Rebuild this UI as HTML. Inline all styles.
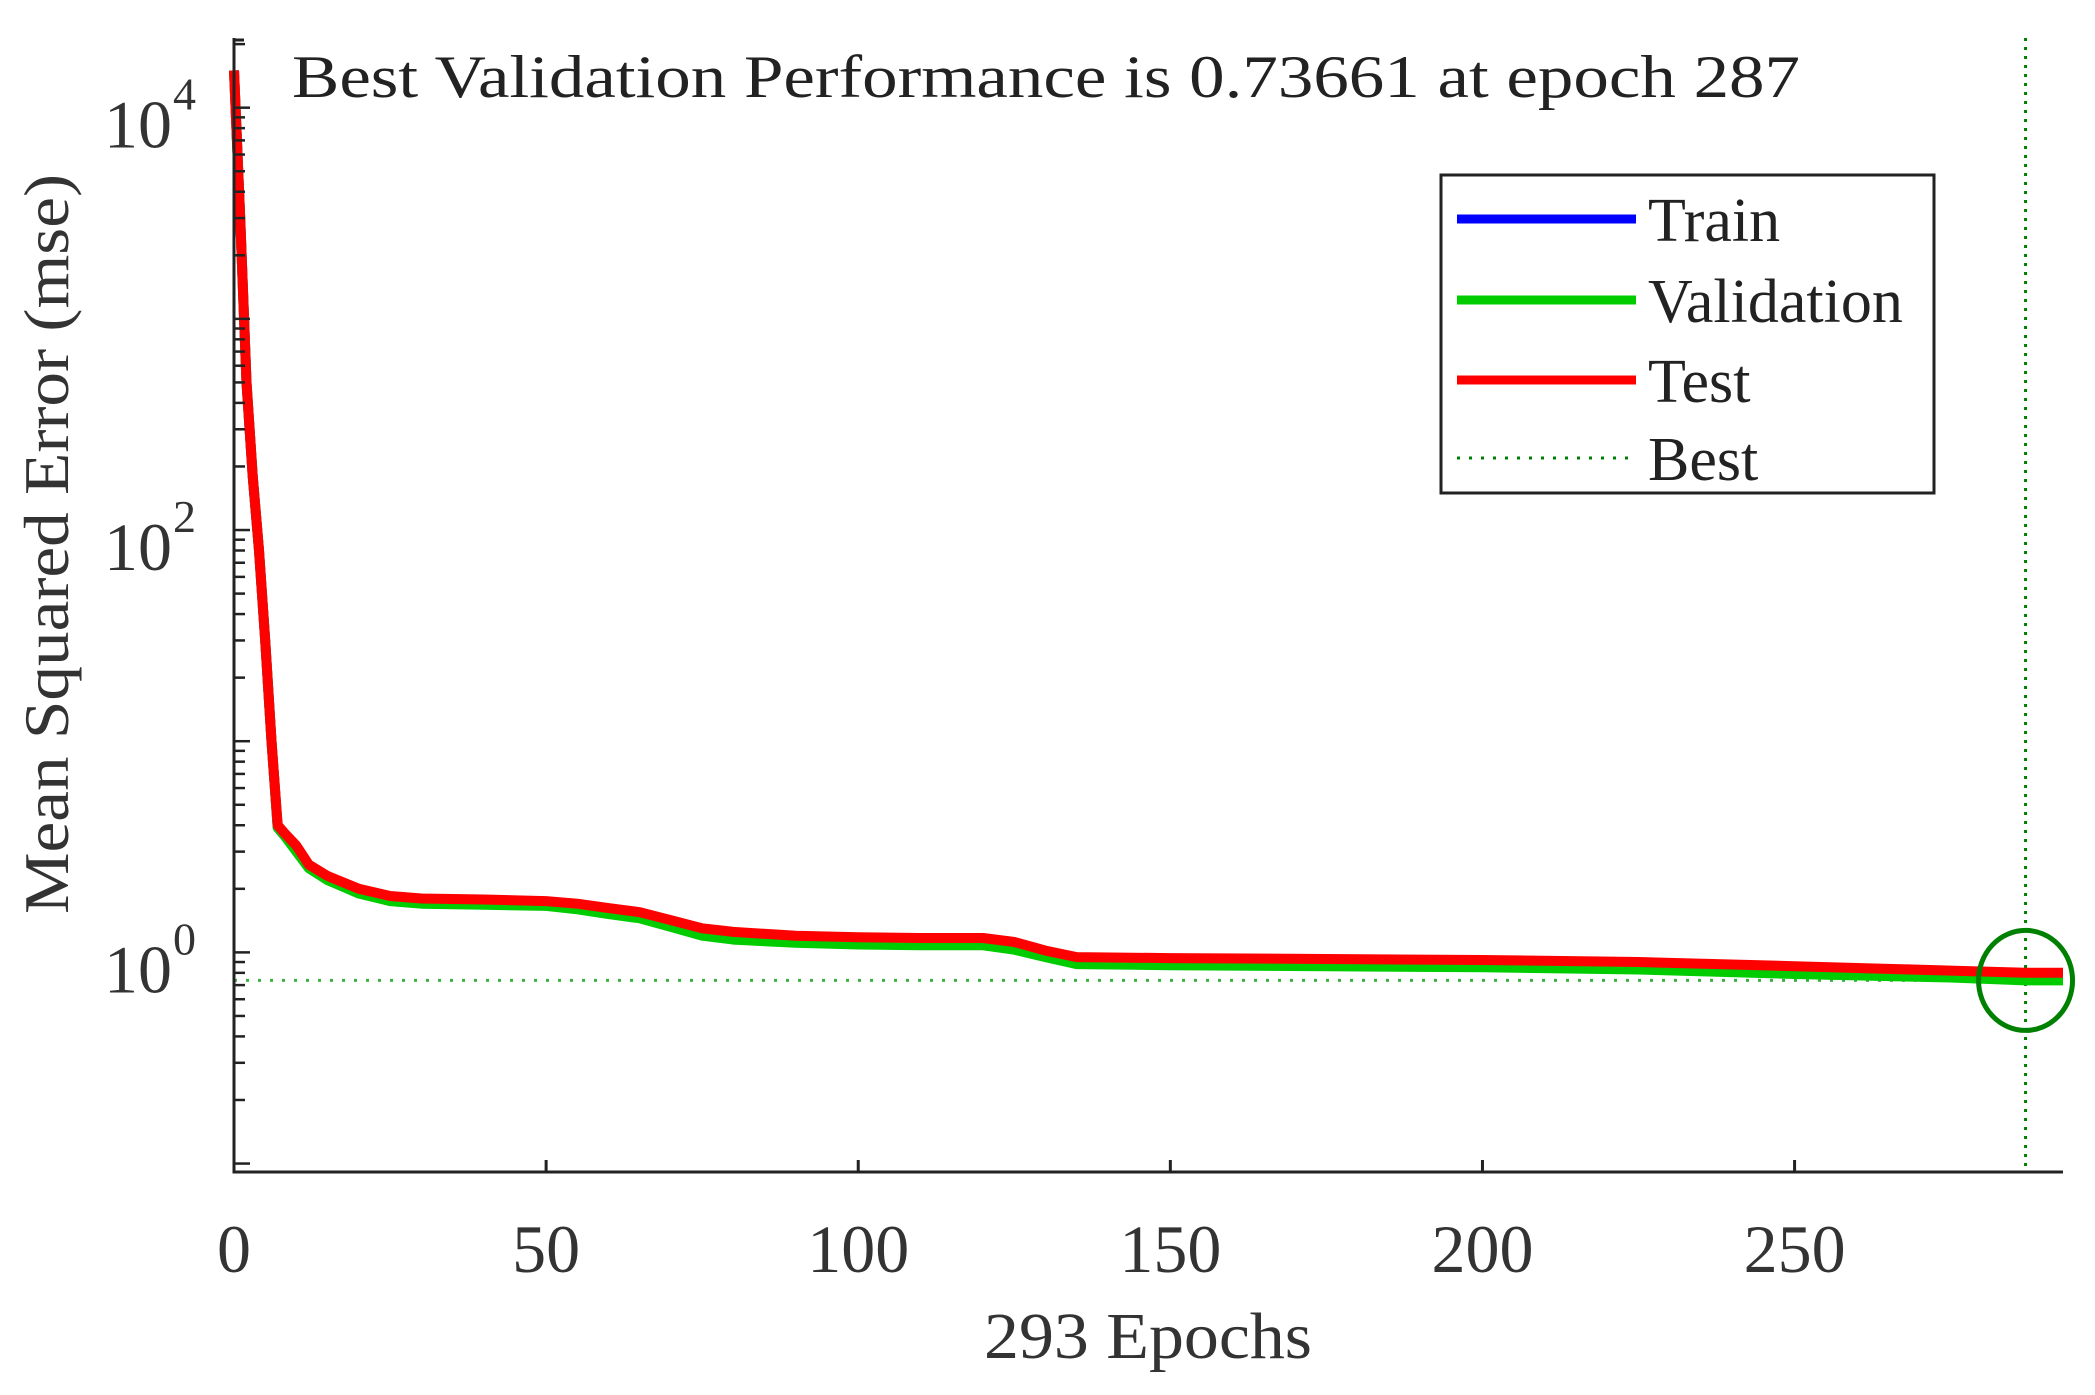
<!DOCTYPE html>
<html><head><meta charset="utf-8"><style>
html,body{margin:0;padding:0;background:#fff;}
svg{display:block;font-family:"Liberation Serif",serif;}
</style></head><body>
<svg id="chart" width="2095" height="1395" viewBox="0 0 2095 1395"></svg>
<script>
const epochs =      [0,    1,    2,   3,   4,   5,   6,   7,   8,   10,  12,  15,  20,  25,  30,  40,  50,  55,  60,  65,  70,  75,  80,  90,  100, 110, 120, 125, 130, 135, 150, 175, 200, 225, 250, 275, 287, 293];
const testVals =    [15000,3000,500, 180, 80,  30,  10,  4.0, 3.7, 3.2, 2.6, 2.3, 2.0, 1.85,1.8, 1.78,1.75,1.7, 1.62,1.55,1.42,1.3, 1.25,1.2, 1.18,1.17,1.17,1.12,1.02,0.95,0.94,0.93,0.92,0.9, 0.86,0.82,0.8, 0.8];
const valVals =     [15000,3000,500, 180, 80,  30,  10,  3.9, 3.6, 3.0, 2.5, 2.2, 1.9, 1.75,1.7, 1.68,1.66,1.6, 1.52,1.45,1.32,1.2, 1.15,1.11,1.09,1.08,1.08,1.03,0.95,0.88,0.87,0.86,0.85,0.83,0.79,0.76,0.737,0.737];
const trainVals =   [15000,3000,500, 180, 80,  30,  10,  3.9, 3.6, 3.05,2.55,2.25,1.95,1.78,1.72,1.7, 1.68,1.62,1.55,1.48,1.35,1.23,1.18,1.14,1.12,1.11,1.11,1.06,0.98,0.9, 0.89,0.88,0.87,0.85,0.81,0.78,0.76,0.76];
const xTicks = [0,50,100,150,200,250];
const yDecades = [4,2,0];
const bestEpoch = 287;
const bestVal = 0.73661;

const L=234,R=2063,T=38,B=1172;
const xMax=293, logMin=-1.04, logMax=4.33;
const X=v=>L+(v/xMax)*(R-L);
const Y=v=>B-(Math.log10(v)-logMin)/(logMax-logMin)*(B-T);
const NS="http://www.w3.org/2000/svg";
const svg=document.getElementById('chart');
function mk(tag,attrs,parent){const e=document.createElementNS(NS,tag);for(const k in attrs)e.setAttribute(k,attrs[k]);(parent||svg).appendChild(e);return e;}

let bv=mk('line',{x1:X(bestEpoch),x2:X(bestEpoch),y1:T,y2:B,stroke:'#008000','stroke-width':3,'stroke-dasharray':'3 6'});


let bh=mk('line',{x1:L,x2:R,y1:Y(bestVal),y2:Y(bestVal),stroke:'#3cb043','stroke-width':3,'stroke-dasharray':'3 9'});



function series(vals,color,name){
  const d=vals.map((v,i)=>(i?'L':'M')+X(epochs[i]).toFixed(1)+','+Y(v).toFixed(1)).join(' ');
  const p=mk('path',{d:d,fill:'none',stroke:color,'stroke-width':10,'stroke-linejoin':'round'});
  
  
}
series(trainVals,'#0000ff','train-line');
series(valVals,'#00cc00','validation-line');
series(testVals,'#ff0000','test-line');

let bc=mk('ellipse',{cx:X(bestEpoch),cy:Y(bestVal),rx:47,ry:50,fill:'none',stroke:'#008000','stroke-width':5});



let ax=mk('path',{d:`M${L},${T} L${L},${B} L${R},${B}`,fill:'none',stroke:'#222','stroke-width':3});


mk('line',{x1:L,x2:L+10,y1:T+2,y2:T+2,stroke:'#222','stroke-width':3});
xTicks.forEach(t=>{
  const x=X(t);
  let tk=mk('line',{x1:x,x2:x,y1:B,y2:B-12,stroke:'#222','stroke-width':3});
  
  
  let tl=mk('text',{x:x,y:1272,'text-anchor':'middle','font-size':68,fill:'#333'});
  tl.textContent=t;
  
  
});
for(let d=-2;d<=4;d++){
  for(let m=1;m<=9;m++){
    const v=m*Math.pow(10,d);const lv=Math.log10(v);
    if(lv<logMin||lv>logMax)continue;
    mk('line',{x1:L,x2:L+(m===1?16:11),y1:Y(v),y2:Y(v),stroke:'#222','stroke-width':2.5});
  }
}
yDecades.forEach(d=>{
  const y=Y(Math.pow(10,d));
  let tl=mk('text',{x:172,y:y+40,'text-anchor':'end','font-size':68,fill:'#333'});
  tl.textContent='10';
  
  
  let sp=mk('text',{x:173,y:y+2,'font-size':46,fill:'#333'});
  sp.textContent=d;
  
  
});
</script>
<script>
(function(){
const NS="http://www.w3.org/2000/svg";const svg=document.getElementById('chart');
function mk(tag,attrs){const e=document.createElementNS(NS,tag);for(const k in attrs)e.setAttribute(k,attrs[k]);svg.appendChild(e);return e;}
let t=mk('text',{x:292,y:97,'font-size':60,fill:'#222',textLength:1508,lengthAdjust:'spacingAndGlyphs'});
t.textContent='Best Validation Performance is 0.73661 at epoch 287';


let xl=mk('text',{x:1148,y:1358,'text-anchor':'middle','font-size':66,fill:'#333',textLength:328,lengthAdjust:'spacingAndGlyphs'});
xl.textContent='293 Epochs';


let yl=mk('text',{x:0,y:0,'text-anchor':'middle','font-size':64,fill:'#333',transform:'translate(68,544) rotate(-90)',textLength:740,lengthAdjust:'spacingAndGlyphs'});
yl.textContent='Mean Squared Error  (mse)';


let lg=mk('rect',{x:1441,y:175,width:493,height:318,fill:'#fff',stroke:'#222','stroke-width':3});


const names=['Train','Validation','Test','Best'];
const cols=['#0000ff','#00cc00','#ff0000','#008000'];
const ys=[219,300,380,458];
names.forEach((n,i)=>{
  let ln=mk('line',{x1:1457,x2:1636,y1:ys[i],y2:ys[i],stroke:cols[i],'stroke-width':i<3?9:3,'stroke-dasharray':i<3?'none':'3 9'});
  
  
  let tx=mk('text',{x:1648,y:ys[i]+22,'font-size':62,fill:'#222'});
  tx.textContent=n;
  
  
});
})();
</script>
</body></html>
